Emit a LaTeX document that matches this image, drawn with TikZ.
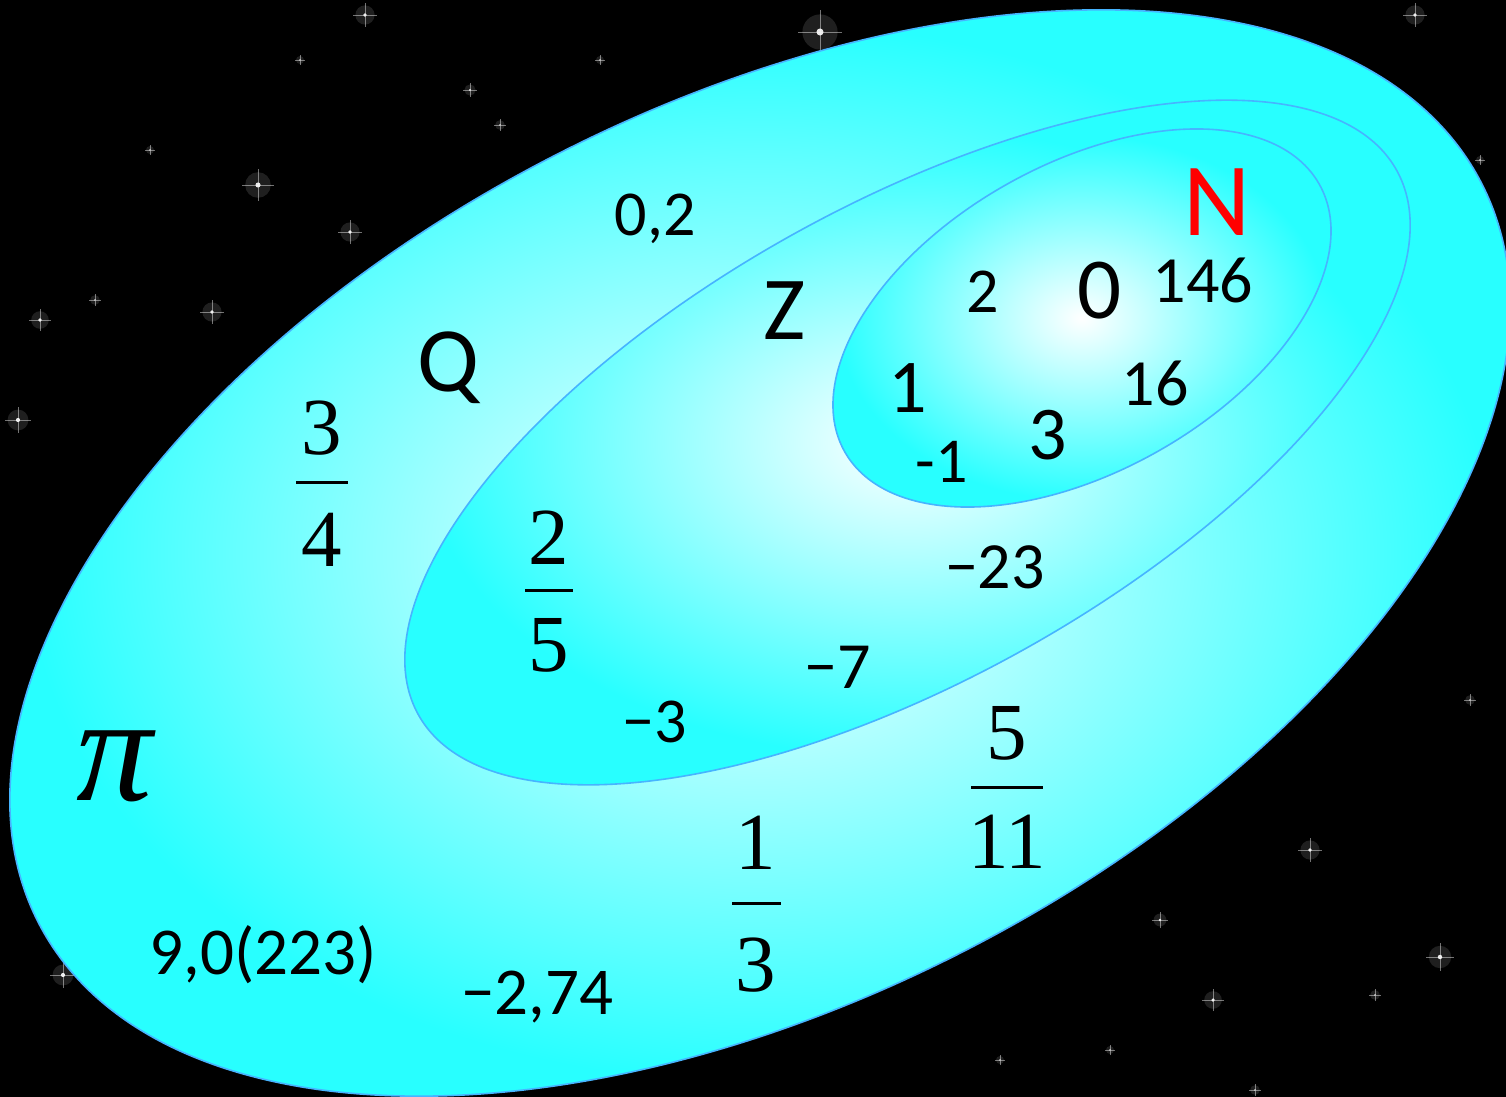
\documentclass[tikz,border=0pt]{standalone}
\usepackage{fontspec}
\setmainfont{Carlito}
\newfontfamily\tnrfam{Liberation Serif}
\definecolor{edgeblue}{RGB}{70,180,255}
\definecolor{aqua}{RGB}{40,255,255}
\pgfdeclareradialshading{setglow}{\pgfpointorigin}{color(0bp)=(white); color(22bp)=(aqua); color(50bp)=(aqua)}
\newcommand{\serifdigits}[1]{{\fontspec{Liberation Serif}\fontsize{40.5}{44}\selectfont #1}}
\begin{document}
\begin{tikzpicture}[x=0.5pt,y=-0.5pt,
  lbl/.style={inner sep=0pt, text=black},
  setedge/.style={shading=setglow, draw=edgeblue, line width=0.8pt},
  fracbar/.style={line width=1.5pt, black}]
\useasboundingbox (0,0) rectangle (1506,1097);
\fill[black] (0,0) rectangle (1506,1097);
% stars
\foreach \x/\y/\s in {820/32/2.2, 258/185/1.6, 350/232/1.2, 212/312/1.2, 40/320/1.1, 18/420/1.3, 365/15/1.2, 1415/15/1.2, 1310/850/1.2, 1440/957/1.4, 1213/1000/1.1, 1160/920/0.8, 63/975/1.3, 470/90/0.7, 500/125/0.6, 225/395/0.6, 150/150/0.5, 95/300/0.6, 1375/995/0.6, 1255/1090/0.6, 1490/240/0.6, 1470/700/0.6, 1000/1060/0.5, 1110/1050/0.5, 300/60/0.5, 600/60/0.5, 1480/160/0.5} {
  \fill[white, opacity=0.12, shift={(\x,\y)}] (0,0) circle[radius=\s*4pt];
  \draw[white, opacity=0.45, line width=0.4pt, shift={(\x,\y)}] (-\s*5pt,0pt) -- (\s*5pt,0pt) (0pt,-\s*5pt) -- (0pt,\s*5pt);
  \fill[white, opacity=0.9, shift={(\x,\y)}] (0,0) circle[radius=\s*0.8pt];
}
% sets
\begin{scope}[shift={(760,553)}, rotate=27.1]
  \shadedraw[setedge] (0,0) ellipse [x radius=405.4pt, y radius=223.7pt];
\end{scope}
\begin{scope}[shift={(907.5,442.5)}, rotate=29.1]
  \shadedraw[setedge] (0,0) ellipse [x radius=279.9pt, y radius=118.75pt];
\end{scope}
\begin{scope}[shift={(1082,318)}, rotate=29.4]
  \shadedraw[setedge] (0,0) ellipse [x radius=136.2pt, y radius=76.7pt];
\end{scope}
% labels of sets
\node[lbl, text=red, font=\fontsize{52}{60}\selectfont] (N) at (1217,202) {N};
\node[lbl, font=\fontsize{45}{52}\selectfont] (Z) at (785,311) {Z};
\node[lbl, font=\fontsize{46}{52}\selectfont] (Q) at (448,368) {Q};
\node[lbl] (pi) at (115,766) {\fontspec{Liberation Serif}\itshape\fontsize{76}{84}\selectfont π};
% naturals / integers
\node[lbl, font=\fontsize{43.5}{50}\selectfont] (n0) at (1100,291) {0};
\node[lbl, font=\fontsize{32}{38}\selectfont] (n2) at (983,292) {2};
\node[lbl, font=\fontsize{33}{38}\selectfont] (n146) at (1203,280) {146};
\node[lbl, font=\fontsize{38}{44}\selectfont] (n1) at (908,388) {1};
\node[lbl, font=\fontsize{33}{38}\selectfont] (n16) at (1155,383) {16};
\node[lbl, font=\fontsize{38}{44}\selectfont] (n3) at (1048,435) {3};
\node[lbl, font=\fontsize{32}{38}\selectfont] (nm1) at (942,462) {-1};
\node[lbl, font=\fontsize{33}{38}\selectfont] (nm23) at (995,567) {−23};
\node[lbl, font=\fontsize{33}{38}\selectfont] (nm7) at (838,667) {−7};
\node[lbl, font=\fontsize{32}{38}\selectfont] (nm3) at (655,722) {−3};
% rationals
\node[lbl, font=\fontsize{32}{38}\selectfont] (q02) at (655,219) {0,2};
\node[lbl, font=\fontsize{33.5}{40}\selectfont] (q9) at (263,955) {9,0(223)};
\node[lbl, font=\fontsize{33.5}{40}\selectfont] (q274) at (537,997) {−2,74};
% fractions
\node[lbl] (f34n) at (322,428) {\serifdigits{3}};
\node[lbl] (f34d) at (322,540) {\serifdigits{4}};
\coordinate (f34a) at (296,482); \coordinate (f34b) at (348,482);
\draw[fracbar] (f34a) -- (f34b);
\node[lbl] (f25n) at (549,538) {\serifdigits{2}};
\node[lbl] (f25d) at (549,645) {\serifdigits{5}};
\coordinate (f25a) at (525,590); \coordinate (f25b) at (573,590);
\draw[fracbar] (f25a) -- (f25b);
\node[lbl] (f511n) at (1007,733) {\serifdigits{5}};
\node[lbl] (f511d) at (1007,842) {\serifdigits{11}};
\coordinate (f511a) at (971,787); \coordinate (f511b) at (1043,787);
\draw[fracbar] (f511a) -- (f511b);
\node[lbl] (f13n) at (756,843) {\serifdigits{1}};
\node[lbl] (f13d) at (756,965) {\serifdigits{3}};
\coordinate (f13a) at (732,903); \coordinate (f13b) at (781,903);
\draw[fracbar] (f13a) -- (f13b);
\end{tikzpicture}
\end{document}
